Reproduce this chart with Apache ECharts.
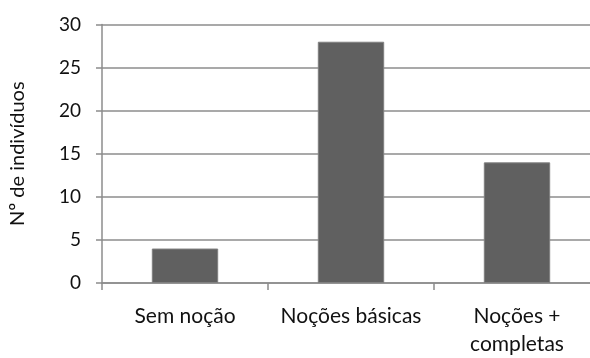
<!DOCTYPE html>
<html>
<head>
<meta charset="utf-8">
<script src="https://cdn.jsdelivr.net/npm/echarts@6/dist/echarts.min.js"></script>
<style>
  html, body { margin: 0; padding: 0; background: #fff; overflow: hidden; }
  /* the plot runs past the right edge of the window */
  #chart { width: 600px; height: 358px; }
</style>
</head>
<body>
<div id="chart"></div>
<script>
const categories = ['Sem noção', 'Noções básicas', 'Noções +\ncompletas'];
const counts = [4, 28, 14];
const yTicks = [0, 5, 10, 15, 20, 25, 30];

const FONT = 'Lato, "Open Sans", sans-serif';
const chart = echarts.init(document.getElementById('chart'), null, { renderer: 'canvas' });

chart.setOption({
  animation: false,
  grid: { left: 100, right: 0, top: 24.5, bottom: 70, containLabel: false },
  xAxis: {
    type: 'category',
    data: categories,
    axisLine: { lineStyle: { color: '#8c8c8c', width: 1.5 } },
    axisTick: { show: true, length: 7, alignWithLabel: false, lineStyle: { color: '#8c8c8c', width: 1.5 } },
    axisLabel: { color: '#111', fontFamily: FONT, fontSize: 21, margin: 19, lineHeight: 28, interval: 0 }
  },
  yAxis: {
    type: 'value',
    min: yTicks[0],
    max: yTicks[yTicks.length - 1],
    interval: 5,
    name: 'Nº de indivíduos',
    nameLocation: 'middle',
    nameGap: 74,
    nameRotate: 90,
    nameTextStyle: { color: '#111', fontFamily: FONT, fontSize: 20 },
    axisLine: { show: true, lineStyle: { color: '#8c8c8c', width: 1.5 } },
    axisTick: { show: true, length: 6, lineStyle: { color: '#8c8c8c', width: 1.5 } },
    axisLabel: { color: '#111', fontFamily: FONT, fontSize: 19, margin: 21 },
    splitLine: { show: true, lineStyle: { color: '#8c8c8c', width: 1.5 } }
  },
  series: [{
    type: 'bar',
    data: counts,
    barWidth: '40%',
    itemStyle: { color: '#606060', borderColor: '#808080', borderWidth: 1 }
  }]
});
</script>
</body>
</html>
